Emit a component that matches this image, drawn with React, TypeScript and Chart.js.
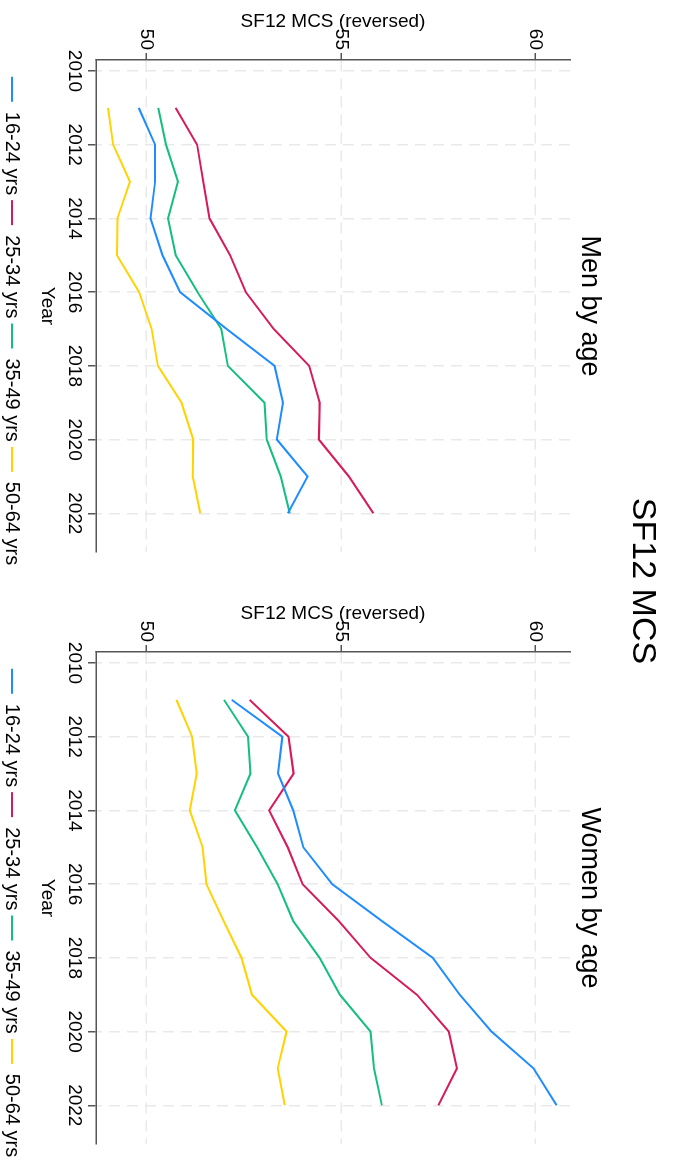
import React, { useEffect, useRef } from 'react';
import { Chart, registerables } from 'chart.js';

Chart.register(...registerables);

const FONT = "'Liberation Sans', Arial, Helvetica, sans-serif";

const years = [2011, 2012, 2013, 2014, 2015, 2016, 2017, 2018, 2019, 2020, 2021, 2022];
const yearTicks = [2010, 2012, 2014, 2016, 2018, 2020, 2022];
const mcsTicks = [50, 55, 60];
const seriesLabels = ['16-24 yrs', '25-34 yrs', '35-49 yrs', '50-64 yrs'];
const seriesColors = ['#1E8CFF', '#D61A5A', '#14BE80', '#FFD200'];

const men1624 = [49.80, 50.22, 50.22, 50.10, 50.41, 50.86, 52.06, 53.29, 53.51, 53.35, 54.14, 53.63];
const men2534 = [50.75, 51.30, 51.46, 51.62, 52.15, 52.55, 53.27, 54.18, 54.45, 54.43, 55.20, 55.83];
const men3549 = [50.30, 50.50, 50.81, 50.55, 50.75, 51.31, 51.92, 52.09, 53.03, 53.09, 53.45, 53.68];
const men5064 = [49.01, 49.14, 49.57, 49.25, 49.24, 49.81, 50.13, 50.29, 50.90, 51.20, 51.19, 51.38];

const women1624 = [52.19, 53.49, 53.38, 53.77, 54.03, 54.77, 56.05, 57.36, 58.05, 58.87, 59.95, 60.54];
const women2534 = [52.65, 53.65, 53.78, 53.15, 53.63, 54.01, 54.94, 55.76, 56.95, 57.77, 57.98, 57.50];
const women3549 = [51.99, 52.61, 52.67, 52.27, 52.84, 53.37, 53.77, 54.45, 54.97, 55.76, 55.85, 56.05];
const women5064 = [50.77, 51.17, 51.29, 51.11, 51.44, 51.54, 51.98, 52.44, 52.71, 53.60, 53.37, 53.55];

const menSeries = [men1624, men2534, men3549, men5064];
const womenSeries = [women1624, women2534, women3549, women5064];

const CANVAS_W = 642;
const CANVAS_H = 674;

function Panel({ title, series, left }: { title: string; series: number[][]; left: number }) {
  const ref = useRef<HTMLCanvasElement | null>(null);
  useEffect(() => {
    if (!ref.current) return;
    const gridColor = '#e9e9e9';
    const axisColor = '#555555';
    const chart = new Chart(ref.current, {
      type: 'line',
      data: {
        datasets: series.map((vals, i) => ({
          label: seriesLabels[i],
          data: years.map((yr, j) => ({ x: yr, y: vals[j] })),
          borderColor: seriesColors[i],
          backgroundColor: seriesColors[i],
          borderWidth: 2,
          pointRadius: 0,
          tension: 0,
          fill: false,
          xAxisID: 'x',
          yAxisID: 'y',
        })),
      },
      options: {
        animation: false,
        responsive: false,
        devicePixelRatio: 1,
        events: [],
        layout: { padding: { top: 0, left: 0, right: 0, bottom: -8 } },
        scales: {
          x: {
            type: 'linear',
            position: 'bottom',
            min: 2009.7016,
            max: 2023.05,
            afterBuildTicks: (s: any) => {
              s.ticks = yearTicks.map((v) => ({ value: v }));
            },
            afterFit: (s: any) => {
              s.height = 69;
            },
            ticks: {
              callback: (v: any) => String(v),
              font: { family: FONT, size: 19 },
              color: '#000',
              padding: 2,
              maxRotation: 0,
              minRotation: 0,
              autoSkip: false,
            },
            grid: {
              color: gridColor,
              lineWidth: 1.5,
              tickLength: 8,
              tickColor: axisColor,
              tickWidth: 1.5,
            },
            border: { display: true, color: axisColor, width: 1.5, dash: [11, 7] },
            title: {
              display: true,
              text: 'Year',
              font: { family: FONT, size: 19 },
              color: '#000',
              padding: { top: 0, bottom: 9 },
            },
          },
          y: {
            type: 'linear',
            position: 'left',
            min: 48.70,
            max: 60.886,
            afterBuildTicks: (s: any) => {
              s.ticks = mcsTicks.map((v) => ({ value: v }));
            },
            afterFit: (s: any) => {
              s.width = 60;
            },
            ticks: {
              callback: (v: any) => String(v),
              font: { family: FONT, size: 19 },
              color: '#000',
              padding: 3,
            },
            grid: {
              color: gridColor,
              lineWidth: 1.5,
              tickLength: 7,
              tickColor: axisColor,
              tickWidth: 1.5,
            },
            border: { display: true, color: axisColor, width: 1.5, dash: [11, 7] },
            title: {
              display: true,
              text: 'SF12 MCS (reversed)',
              font: { family: FONT, size: 19 },
              color: '#000',
              padding: { top: 10, bottom: 0 },
            },
          },
          yR: {
            type: 'linear',
            position: 'right',
            display: true,
            min: 0,
            max: 1,
            afterFit: (s: any) => {
              s.width = CANVAS_W - 552;
            },
            ticks: { display: false },
            grid: { display: false, drawOnChartArea: false, drawTicks: false },
            border: { display: false },
          },
        },
        plugins: {
          title: {
            display: true,
            text: title,
            fullSize: false,
            color: '#000',
            font: { family: FONT, size: 27, weight: 'normal' },
            padding: { top: 68, bottom: 3.6 },
          },
          legend: {
            display: true,
            position: 'bottom',
            labels: {
              boxWidth: 25,
              boxHeight: 0,
              padding: 5,
              color: '#000',
              font: { family: FONT, size: 20 },
            },
          },
          tooltip: { enabled: false },
        },
      },
    } as any);
    return () => chart.destroy();
  }, [title, series]);
  return (
    <canvas
      ref={ref}
      width={CANVAS_W}
      height={CANVAS_H}
      style={{ position: 'absolute', left, top: 0, width: CANVAS_W, height: CANVAS_H, display: 'block' }}
    />
  );
}

export default function App() {
  return (
    <div
      style={{
        position: 'fixed',
        left: 0,
        top: 0,
        width: 1171,
        height: 674,
        overflow: 'hidden',
        background: '#fff',
        transformOrigin: '0 0',
        transform: 'translate(674px, 0px) rotate(90deg)',
      }}
    >
      <Panel title="Men by age" series={menSeries} left={0} />
      <Panel title="Women by age" series={womenSeries} left={592} />
      <div
        style={{
          position: 'absolute',
          top: 9,
          left: 581,
          transform: 'translateX(-50%)',
          fontFamily: FONT,
          fontSize: 34,
          lineHeight: '40px',
          color: '#000',
          whiteSpace: 'nowrap',
        }}
      >
        SF12 MCS
      </div>
    </div>
  );
}
